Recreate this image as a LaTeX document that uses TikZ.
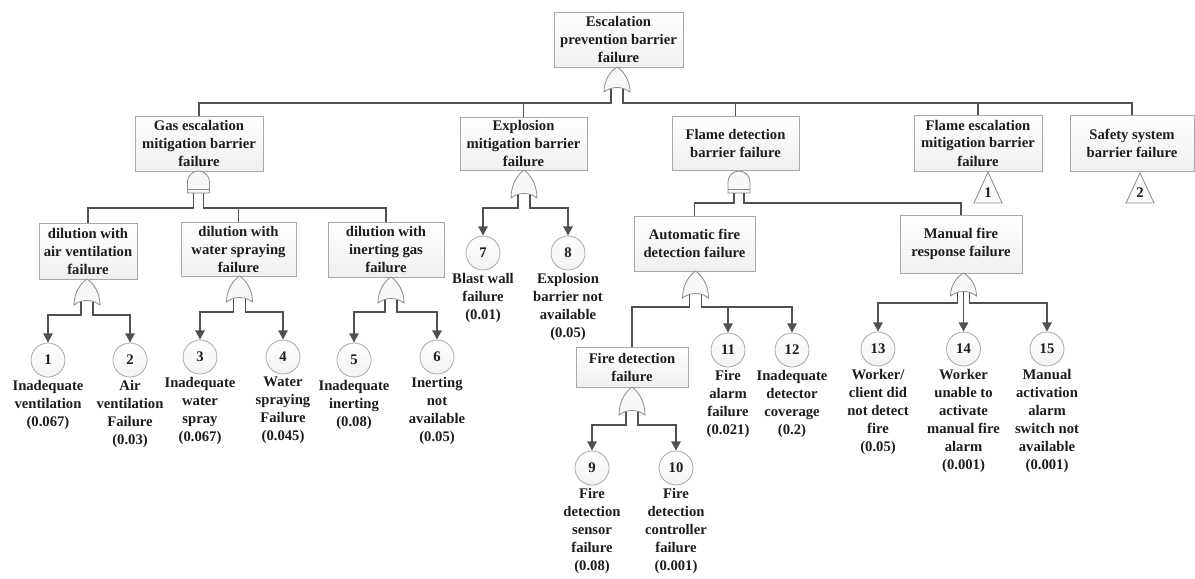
\documentclass[tikz,border=0pt]{standalone}
\usepackage{fontspec}
\setmainfont{Liberation Serif}
\usetikzlibrary{arrows.meta,calc,shadows}
\definecolor{wire}{HTML}{505050}
\definecolor{boxline}{HTML}{A8A8A8}
\definecolor{gateline}{HTML}{8A8A8A}
\definecolor{ink}{HTML}{1C1C1C}

\tikzset{
  evbox/.style={draw=boxline, line width=0.6pt, top color=white, bottom color=black!6,
    align=center, inner sep=0pt, text=ink,
    drop shadow={shadow xshift=0.8pt, shadow yshift=-0.8pt, opacity=0.2}},
  basic/.style={circle, draw=boxline, line width=0.6pt, top color=white, bottom color=black!5,
    minimum size=25.5pt, inner sep=0pt, text=ink},
  lbl/.style={align=center, inner sep=2pt, text=ink},
  wire/.style={draw=wire, line width=1.4pt},
  arr/.style={wire, -{Triangle[length=7pt,width=7pt]}},
  gatestyle/.style={draw=gateline, line width=0.6pt, fill=black!3},
  % OR gate: apex at the origin, argument = height (y grows downward)
  pics/orgate/.style={code={
    \path[gatestyle] (-13,#1) .. controls (-13,{0.5*#1}) and (-6,{0.15*#1}) .. (0,0)
      .. controls (6,{0.15*#1}) and (13,{0.5*#1}) .. (13,#1)
      .. controls (5,{#1-6}) and (-5,{#1-6}) .. (-13,#1) -- cycle;
    \coordinate (-l) at (-6,{#1-3.5});
    \coordinate (-m) at (0,{#1-4.5});
    \coordinate (-r) at (6,{#1-3.5});
  }},
  % AND gate: dome on a short base, top at the origin
  pics/andgate/.style={code={
    \path[gatestyle] (-11,22) -- (-11,11) arc[start angle=180, end angle=360, radius=11] -- (11,22) -- cycle;
    \draw[gateline, line width=0.6pt] (-11,18) -- (11,18);
    \coordinate (-l) at (-5,22);
    \coordinate (-r) at (5,22);
  }}
}

\begin{document}
\begin{tikzpicture}[x=0.75pt, y=-0.75pt, font=\fontsize{11}{13.5}\selectfont\bfseries]
\useasboundingbox (0,0) rectangle (1195,578);

% ---- events ----
\node[evbox, minimum width=96.75pt, minimum height=41.25pt] (top) at (618.5,39.5) {Escalation\\prevention barrier\\failure};
\node[evbox, minimum width=96pt, minimum height=41.25pt] (gas) at (199,143.5) {Gas escalation\\mitigation barrier\\failure};
\node[evbox, minimum width=95.25pt, minimum height=39.75pt] (expl) at (523.5,143.5) {Explosion\\mitigation barrier\\failure};
\node[evbox, minimum width=95.25pt, minimum height=40.5pt] (flamedet) at (735.5,143) {Flame detection\\barrier failure};
\node[evbox, minimum width=96pt, minimum height=42pt] (flameesc) at (978,143) {Flame escalation\\mitigation barrier\\failure};
\node[evbox, minimum width=93pt, minimum height=42pt] (safety) at (1132,143) {Safety system\\barrier failure};
\node[evbox, minimum width=73.5pt, minimum height=42pt] (air) at (88,251) {dilution with\\air ventilation\\failure};
\node[evbox, minimum width=86.25pt, minimum height=40.5pt] (water) at (238.5,249) {dilution with\\water spraying\\failure};
\node[evbox, minimum width=87pt, minimum height=41.25pt] (inert) at (386,249.5) {dilution with\\inerting gas\\failure};
\node[evbox, minimum width=90.75pt, minimum height=41.25pt] (auto) at (694.5,243.5) {Automatic fire\\detection failure};
\node[evbox, minimum width=91.5pt, minimum height=43.5pt] (manual) at (961,244) {Manual fire\\response failure};
\node[evbox, minimum width=84pt, minimum height=30pt] (firedet) at (632,367) {Fire detection\\failure};

% ---- transfer symbols ----
\path[gatestyle, fill=black!2] (988,172) -- (1002,203) -- (974,203) -- cycle;
\node[text=ink] (tr1) at (988,193) {1};
\path[gatestyle, fill=black!2] (1140,173) -- (1154,203) -- (1126,203) -- cycle;
\node[text=ink] (tr2) at (1140,193) {2};

% ---- basic events ----
\node[basic] (c1) at (48,360) {1};
\node[basic] (c2) at (130,360) {2};
\node[basic] (c3) at (200,357) {3};
\node[basic] (c4) at (283,357) {4};
\node[basic] (c5) at (354,360) {5};
\node[basic] (c6) at (437,357) {6};
\node[basic] (c7) at (483,253) {7};
\node[basic] (c8) at (568,253) {8};
\node[basic] (c9) at (592,468) {9};
\node[basic] (c10) at (676,468) {10};
\node[basic] (c11) at (728,350) {11};
\node[basic] (c12) at (792,350) {12};
\node[basic] (c13) at (878,349) {13};
\node[basic] (c14) at (963.5,349) {14};
\node[basic] (c15) at (1047,349) {15};

\node[lbl, anchor=north] (l1) at (c1.south) {Inadequate\\ventilation\\(0.067)};
\node[lbl, anchor=north] (l2) at (c2.south) {Air\\ventilation\\Failure\\(0.03)};
\node[lbl, anchor=north] (l3) at (c3.south) {Inadequate\\water\\spray\\(0.067)};
\node[lbl, anchor=north] (l4) at (c4.south) {Water\\spraying\\Failure\\(0.045)};
\node[lbl, anchor=north] (l5) at (c5.south) {Inadequate\\inerting\\(0.08)};
\node[lbl, anchor=north] (l6) at (c6.south) {Inerting\\not\\available\\(0.05)};
\node[lbl, anchor=north] (l7) at (c7.south) {Blast wall\\failure\\(0.01)};
\node[lbl, anchor=north] (l8) at (c8.south) {Explosion\\barrier not\\available\\(0.05)};
\node[lbl, anchor=north] (l9) at (c9.south) {Fire\\detection\\sensor\\failure\\(0.08)};
\node[lbl, anchor=north] (l10) at (c10.south) {Fire\\detection\\controller\\failure\\(0.001)};
\node[lbl, anchor=north] (l11) at (c11.south) {Fire\\alarm\\failure\\(0.021)};
\node[lbl, anchor=north] (l12) at (c12.south) {Inadequate\\detector\\coverage\\(0.2)};
\node[lbl, anchor=north] (l13) at (c13.south) {Worker/\\client did\\not detect\\fire\\(0.05)};
\node[lbl, anchor=north] (l14) at (c14.south) {Worker\\unable to\\activate\\manual fire\\alarm\\(0.001)};
\node[lbl, anchor=north] (l15) at (c15.south) {Manual\\activation\\alarm\\switch not\\available\\(0.001)};

% ---- gates ----
\pic (topg) at (617,67) {orgate=25};
\pic (gasg) at (198.5,171) {andgate};
\pic (airg) at (87,279) {orgate=26};
\pic (waterg) at (239.5,276) {orgate=26};
\pic (inertg) at (391,277) {orgate=26};
\pic (explg) at (524,170) {orgate=28};
\pic (fdg) at (739,171) {andgate};
\pic (autog) at (695.5,271) {orgate=27};
\pic (fireg) at (632,387) {orgate=28};
\pic (mang) at (963.5,273) {orgate=23};

% ---- connectors ----
\draw[wire] (topg-l) -- ++(0,14.5) -| (gas.north);
\draw[wire] (topg-l) -- ++(0,14.5) -| (expl.north);
\draw[wire] (topg-r) -- ++(0,14.5) -| (flamedet.north);
\draw[wire] (topg-r) -- ++(0,14.5) -| (flameesc.north);
\draw[wire] (topg-r) -- ++(0,14.5) -| (safety.north);

\draw[wire] (gasg-l) -- ++(0,15) -| (air.north);
\draw[wire] (gasg-r) -- ++(0,15) -| (water.north);
\draw[wire] (gasg-r) -- ++(0,15) -| (inert.north);

\draw[arr] (airg-l) -- ++(0,13.5) -| (c1.north);
\draw[arr] (airg-r) -- ++(0,13.5) -| (c2.north);
\draw[arr] (waterg-l) -- ++(0,13.5) -| (c3.north);
\draw[arr] (waterg-r) -- ++(0,13.5) -| (c4.north);
\draw[arr] (inertg-l) -- ++(0,12.5) -| (c5.north);
\draw[arr] (inertg-r) -- ++(0,12.5) -| (c6.north);

\draw[arr] (explg-l) -- ++(0,13.5) -| (c7.north);
\draw[arr] (explg-r) -- ++(0,13.5) -| (c8.north);

\draw[wire] (fdg-l) -- ++(0,10) -| (auto.north);
\draw[wire] (fdg-r) -- ++(0,10) -| (manual.north);

\draw[wire] (autog-l) -- ++(0,12.5) -| (firedet.north);
\draw[arr] (autog-r) -- ++(0,12.5) -| (c11.north);
\draw[arr] (autog-r) -- ++(0,12.5) -| (c12.north);

\draw[arr] (fireg-l) -- ++(0,13.5) -| (c9.north);
\draw[arr] (fireg-r) -- ++(0,13.5) -| (c10.north);

\draw[arr] (mang-l) -- ++(0,10.5) -| (c13.north);
\draw[arr] (mang-m) -- (c14.north);
\draw[arr] (mang-r) -- ++(0,10.5) -| (c15.north);
\end{tikzpicture}
\end{document}
